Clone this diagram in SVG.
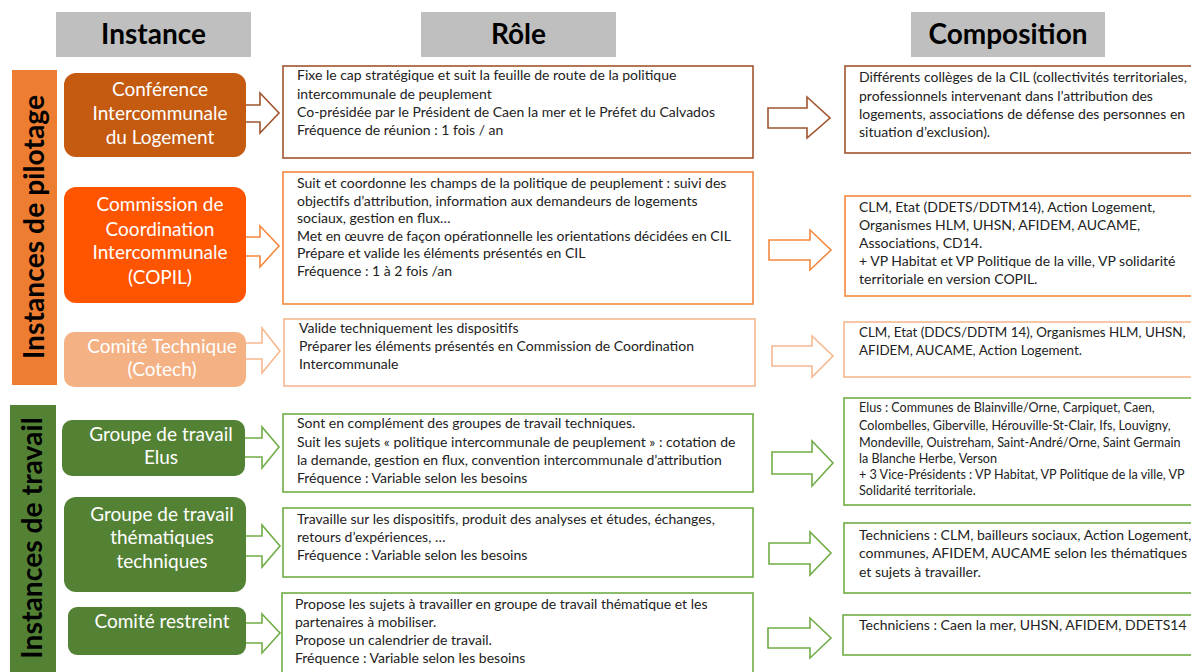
<svg xmlns="http://www.w3.org/2000/svg" width="1191" height="672" viewBox="0 0 1191 672">
<style>
.hdr{fill:#bfbfbf}
.hdrt{font-family:Lato,"Liberation Sans",sans-serif;font-weight:bold;font-size:28px;fill:#000;text-anchor:middle}
.side{font-family:Lato,"Liberation Sans",sans-serif;font-weight:bold;font-size:28.3px;fill:#000;text-anchor:middle}
.nt{font-family:Lato,"Liberation Sans",sans-serif;font-size:19px;fill:#fff;text-anchor:middle}
.bt{font-family:Lato,"Liberation Sans",sans-serif;font-size:14px;fill:#222}
.bs{font-family:Lato,"Liberation Sans",sans-serif;font-size:13.4px;fill:#222}
.st{font-family:Lato,"Liberation Sans",sans-serif;font-size:12.6px;fill:#222}
.box{fill:#fff;stroke-width:1.6}
.arr{fill:#fff;stroke-width:1.6}
.c1{stroke:#A0552F}
.c2{stroke:#F4883E}
.c3{stroke:#F6B890}
.c4{stroke:#70AD47}
</style>
<rect width="1191" height="672" fill="#fff"/>
<g id="headers">
<rect class="hdr" x="56" y="12" width="195" height="45"/>
<text class="hdrt" x="153.5" y="44">Instance</text>
<rect class="hdr" x="421" y="12" width="195" height="45"/>
<text class="hdrt" x="518.5" y="44">Rôle</text>
<rect class="hdr" x="911" y="12" width="194" height="45"/>
<text class="hdrt" x="1008" y="44">Composition</text>
</g>
<g id="side-pilotage">
<rect x="12" y="70" width="45" height="315" fill="#ED7D31"/>
<text class="side" transform="translate(44,227) rotate(-90)">Instances de pilotage</text>
</g>
<g id="side-travail">
<rect x="10" y="405" width="46" height="267" fill="#548235"/>
<text class="side" transform="translate(42,538) rotate(-90)">Instances de travail</text>
</g>
<g id="connectors">
<polygon class="arr c1" points="240,105 260,105 260,93 279,113 260,133 260,122 240,122"/>
<polygon class="arr c1" points="768,108 807,108 807,97 830,118 807,138 807,128 768,128"/>
<polygon class="arr c2" points="240,237 260,237 260,226 279,246 260,267 260,256 240,256"/>
<polygon class="arr c2" points="769,240 810,240 810,230 831,250 810,270 810,260 769,260"/>
<polygon class="arr c3" points="240,343 262,343 262,328 280,351 262,373 262,359 240,359"/>
<polygon class="arr c3" points="772,346 812,346 812,336 833,356 812,377 812,366 772,366"/>
<polygon class="arr c4" points="240,438 262,438 262,427 279,447 262,468 262,457 240,457"/>
<polygon class="arr c4" points="772,452 812,452 812,441 833,463 812,486 812,474 772,474"/>
<polygon class="arr c4" points="240,536 262,536 262,525 280,546 262,567 262,556 240,556"/>
<polygon class="arr c4" points="769,543 810,543 810,532 831,553 810,575 810,564 769,564"/>
<polygon class="arr c4" points="240,623 262,623 262,614 280,633 262,653 262,643 240,643"/>
<polygon class="arr c4" points="768,628 810,628 810,618 831,638 810,658 810,648 768,648"/>
</g>
<g id="node-cil">
<rect x="64" y="73" width="182" height="84" rx="12" fill="#C55A11"/>
<text class="nt" x="160" y="96">Conférence</text>
<text class="nt" x="160" y="120">Intercommunale</text>
<text class="nt" x="160" y="144">du Logement</text>
</g>
<g id="node-copil">
<rect x="64" y="187" width="182" height="116" rx="12" fill="#FF5500"/>
<text class="nt" x="160" y="211">Commission de</text>
<text class="nt" x="160" y="236">Coordination</text>
<text class="nt" x="160" y="259">Intercommunale</text>
<text class="nt" x="160" y="284">(COPIL)</text>
</g>
<g id="node-cotech">
<rect x="64" y="332" width="182" height="55" rx="10" fill="#F4B183"/>
<text class="nt" x="162" y="353">Comité Technique</text>
<text class="nt" x="162" y="376">(Cotech)</text>
</g>
<g id="node-gt-elus">
<rect x="62" y="420" width="183" height="56" rx="10" fill="#548235"/>
<text class="nt" x="161" y="441">Groupe de travail</text>
<text class="nt" x="161" y="464">Elus</text>
</g>
<g id="node-gt-themes">
<rect x="64" y="497" width="182" height="95" rx="12" fill="#548235"/>
<text class="nt" x="162" y="521">Groupe de travail</text>
<text class="nt" x="162" y="544">thématiques</text>
<text class="nt" x="162" y="568">techniques</text>
</g>
<g id="node-restreint">
<rect x="68" y="607" width="178" height="48" rx="9" fill="#548235"/>
<text class="nt" x="162" y="628">Comité restreint</text>
</g>
<g id="role-cil">
<rect class="box c1" x="283" y="66" width="470" height="92"/>
<text class="bt" x="297" y="80">Fixe le cap stratégique et suit la feuille de route de la politique</text>
<text class="bt" x="297" y="99">intercommunale de peuplement</text>
<text class="bt" x="297" y="117">Co-présidée par le Président de Caen la mer et le Préfet du Calvados</text>
<text class="bt" x="297" y="135">Fréquence de réunion : 1 fois / an</text>
</g>
<g id="comp-cil">
<rect class="box c1" x="845" y="66" width="360" height="87"/>
<text class="bt" x="859" y="82">Différents collèges de la CIL (collectivités territoriales,</text>
<text class="bt" x="859" y="101">professionnels intervenant dans l’attribution des</text>
<text class="bt" x="859" y="119">logements, associations de défense des personnes en</text>
<text class="bt" x="859" y="137">situation d’exclusion).</text>
</g>
<g id="role-copil">
<rect class="box c2" x="283" y="172" width="470" height="132"/>
<text class="bt" x="297" y="188">Suit et coordonne les champs de la politique de peuplement : suivi des</text>
<text class="bt" x="297" y="206">objectifs d’attribution, information aux demandeurs de logements</text>
<text class="bt" x="297" y="223">sociaux, gestion en flux…</text>
<text class="bt" x="297" y="241">Met en œuvre de façon opérationnelle les orientations décidées en CIL</text>
<text class="bt" x="297" y="258">Prépare et valide les éléments présentés en CIL</text>
<text class="bt" x="297" y="276">Fréquence : 1 à 2 fois /an</text>
</g>
<g id="comp-copil">
<rect class="box c2" x="845" y="196" width="360" height="100"/>
<text class="bt" x="859" y="212">CLM, Etat (DDETS/DDTM14), Action Logement,</text>
<text class="bt" x="859" y="230">Organismes HLM, UHSN, AFIDEM, AUCAME,</text>
<text class="bt" x="859" y="248">Associations, CD14.</text>
<text class="bt" x="859" y="266">+ VP Habitat et VP Politique de la ville, VP solidarité</text>
<text class="bt" x="859" y="284">territoriale en version COPIL.</text>
</g>
<g id="role-cotech">
<rect class="box c3" x="284" y="319" width="471" height="67"/>
<text class="bt" x="299" y="333">Valide techniquement les dispositifs</text>
<text class="bt" x="299" y="351">Préparer les éléments présentés en Commission de Coordination</text>
<text class="bt" x="299" y="369">Intercommunale</text>
</g>
<g id="comp-cotech">
<rect class="box c3" x="844" y="322" width="360" height="55"/>
<text class="bs" x="859" y="337">CLM, Etat (DDCS/DDTM 14), Organismes HLM, UHSN,</text>
<text class="bs" x="859" y="355">AFIDEM, AUCAME, Action Logement.</text>
</g>
<g id="role-gt-elus">
<rect class="box c4" x="283" y="414" width="470" height="78"/>
<text class="bt" x="297" y="428">Sont en complément des groupes de travail techniques.</text>
<text class="bt" x="297" y="447">Suit les sujets « politique intercommunale de peuplement » : cotation de</text>
<text class="bt" x="297" y="465">la demande, gestion en flux, convention intercommunale d’attribution</text>
<text class="bt" x="297" y="483">Fréquence : Variable selon les besoins</text>
</g>
<g id="comp-gt-elus">
<rect class="box c4" x="844" y="398" width="360" height="107"/>
<text class="st" x="859" y="412">Elus : Communes de Blainville/Orne, Carpiquet, Caen,</text>
<text class="st" x="859" y="430">Colombelles, Giberville, Hérouville-St-Clair, Ifs, Louvigny,</text>
<text class="st" x="859" y="447">Mondeville, Ouistreham, Saint-André/Orne, Saint Germain</text>
<text class="st" x="859" y="463">la Blanche Herbe, Verson</text>
<text class="st" x="859" y="479">+ 3 Vice-Présidents : VP Habitat, VP Politique de la ville, VP</text>
<text class="st" x="859" y="495">Solidarité territoriale.</text>
</g>
<g id="role-gt-themes">
<rect class="box c4" x="283" y="508" width="470" height="69"/>
<text class="bt" x="297" y="524">Travaille sur les dispositifs, produit des analyses et études, échanges,</text>
<text class="bt" x="297" y="542">retours d’expériences, …</text>
<text class="bt" x="297" y="560">Fréquence : Variable selon les besoins</text>
</g>
<g id="comp-gt-themes">
<rect class="box c4" x="844" y="523" width="360" height="70"/>
<text class="bt" x="859" y="540">Techniciens : CLM, bailleurs sociaux, Action Logement,</text>
<text class="bt" x="859" y="558">communes, AFIDEM, AUCAME selon les thématiques</text>
<text class="bt" x="859" y="577">et sujets à travailler.</text>
</g>
<g id="role-restreint">
<rect class="box c4" x="282" y="593" width="471" height="90"/>
<text class="bt" x="295" y="609">Propose les sujets à travailler en groupe de travail thématique et les</text>
<text class="bt" x="295" y="627">partenaires à mobiliser.</text>
<text class="bt" x="295" y="645">Propose un calendrier de travail.</text>
<text class="bt" x="295" y="663">Fréquence : Variable selon les besoins</text>
</g>
<g id="comp-restreint">
<rect class="box c4" x="843" y="615" width="360" height="40"/>
<text class="bt" x="859" y="630">Techniciens : Caen la mer, UHSN, AFIDEM, DDETS14</text>
</g>
</svg>
